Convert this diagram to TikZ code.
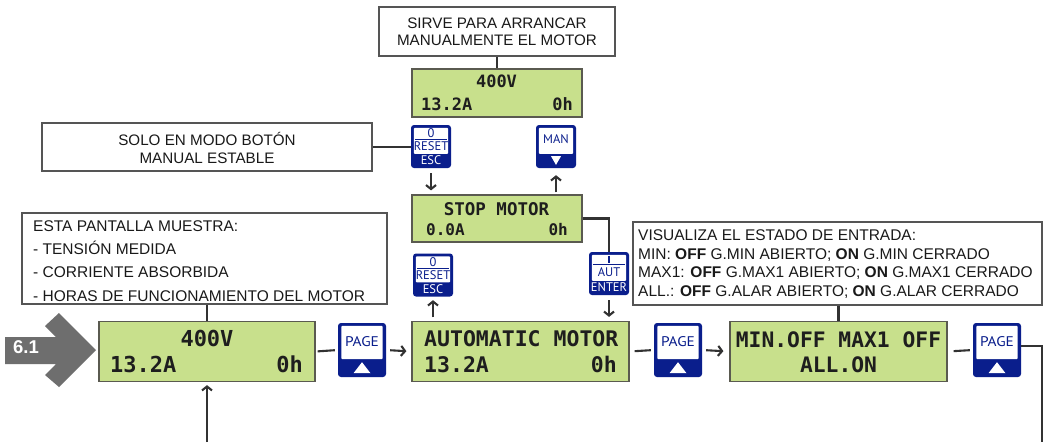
\documentclass[tikz,border=0pt]{standalone}
\usepackage{fontspec}
\setmainfont{Liberation Sans}
\newfontfamily\lcdfont{DejaVu Sans Mono}
\newfontfamily\btnfont{PT Sans}
\newfontfamily\pagefont[FakeStretch=1.1]{PT Sans}
\usetikzlibrary{arrows.meta}
\definecolor{lcdgreen}{RGB}{200,224,140}
\definecolor{lcdborder}{RGB}{90,90,80}
\definecolor{lcdtext}{RGB}{30,30,30}
\definecolor{btnblue}{RGB}{10,30,140}
\definecolor{linec}{RGB}{50,50,50}
\definecolor{boxborder}{RGB}{85,85,85}
\definecolor{arrowgray}{RGB}{110,110,110}
\tikzset{
  lcd/.style={rectangle, draw=lcdborder, fill=lcdgreen, line width=1.2pt, inner sep=0pt},
  capbox/.style={rectangle, draw=boxborder, fill=white, line width=1.2pt, inner sep=0pt},
  capt/.style={inner sep=0pt, text=black!90, font=\fontsize{15.2}{18}\selectfont},
  capv/.style={inner sep=0pt, text=black!90, font=\fontsize{15.5}{18}\selectfont},
  lcdt/.style={inner sep=0pt, text=lcdtext},
  conn/.style={draw=linec, line width=2.1pt},
  arr/.style={conn, -{Straight Barb[length=4pt,width=10pt]}},
  btn/.style={rectangle, fill=btnblue, rounded corners=3pt, inner sep=0pt},
  btnt/.style={inner sep=0pt, text=btnblue, font=\btnfont\fontsize{12.5}{12.5}\selectfont},
}
\newcommand\pagebtn[3]{%
  \node[btn, minimum width=48pt, minimum height=54pt] (#1) at (#2,#3) {};
  \fill[white, rounded corners=1pt] ([xshift=3.5pt,yshift=-3pt]#1.north west) rectangle ([xshift=-3.5pt,yshift=18pt]#1.south east);
  \fill[white] ([xshift=-8.5pt,yshift=4pt]#1.south) -- ([xshift=8.5pt,yshift=4pt]#1.south) -- ([yshift=15pt]#1.south) -- cycle;
  \node[btnt, font=\pagefont\fontsize{14}{14}\selectfont, anchor=base] (#1-t) at ([yshift=-23.3pt]#1.north) {PAGE};
}
\newcommand\resetbtn[3]{%
  \node[btn, minimum width=40pt, minimum height=43pt] (#1) at (#2,#3) {};
  \fill[white, rounded corners=1pt] ([xshift=3pt,yshift=-3pt]#1.north west) rectangle ([xshift=-3pt,yshift=14.3pt]#1.south east);
  \node[btnt, anchor=base] (#1-a) at ([yshift=-13pt]#1.north) {0};
  \draw[btnblue, line width=1pt] ([xshift=4pt,yshift=-15pt]#1.north west) -- ([xshift=-4pt,yshift=-15pt]#1.north east);
  \node[btnt, anchor=base] (#1-b) at ([yshift=-26pt]#1.north) {RESET};
  \node[btnt, text=white, anchor=base] (#1-c) at ([yshift=3.3pt]#1.south) {ESC};
}
\newcommand\manbtn[3]{%
  \node[btn, minimum width=40pt, minimum height=43pt] (#1) at (#2,#3) {};
  \fill[white, rounded corners=1pt] ([xshift=3pt,yshift=-3pt]#1.north west) rectangle ([xshift=-3pt,yshift=14.3pt]#1.south east);
  \node[btnt, anchor=base] (#1-a) at ([yshift=-18.7pt]#1.north) {MAN};
  \fill[white] ([xshift=-5pt,yshift=12pt]#1.south) -- ([xshift=5pt,yshift=12pt]#1.south) -- ([yshift=3.3pt]#1.south) -- cycle;
}
\newcommand\autbtn[3]{%
  \node[btn, minimum width=40pt, minimum height=43pt] (#1) at (#2,#3) {};
  \fill[white, rounded corners=1pt] ([xshift=3pt,yshift=-3pt]#1.north west) rectangle ([xshift=-3pt,yshift=14.3pt]#1.south east);
  \draw[btnblue, line width=1.2pt] ([yshift=-4pt]#1.north) -- ([yshift=-11.5pt]#1.north);
  \draw[btnblue, line width=1pt] ([xshift=4pt,yshift=-13pt]#1.north west) -- ([xshift=-4pt,yshift=-13pt]#1.north east);
  \node[btnt, anchor=base] (#1-b) at ([yshift=-24.7pt]#1.north) {AUT};
  \node[btnt, text=white, anchor=base] (#1-c) at ([yshift=3.3pt]#1.south) {ENTER};
}
\begin{document}
\begin{tikzpicture}[x=1pt, y=-1pt]
\useasboundingbox (0,0) rectangle (1050,442);
\fill[white] (0,0) rectangle (1050,442);

% caption boxes
\node[capbox, minimum width=236pt, minimum height=49pt] (sirve) at (497,31.5) {};
\node[capt, anchor=base] (sirve1) at (497,28.3) {SIRVE PARA ARRANCAR};
\node[capt, anchor=base] (sirve2) at (497,45) {MANUALMENTE EL MOTOR};

\node[capbox, minimum width=330pt, minimum height=48pt] (solo) at (207,147) {};
\node[capt, anchor=base] (solo1) at (207,145) {SOLO EN MODO BOTÓN};
\node[capt, anchor=base] (solo2) at (207,163) {MANUAL ESTABLE};

\node[capbox, minimum width=365pt, minimum height=91pt] (esta) at (204.5,258.5) {};
\node[capv, anchor=base west] (esta1) at (33,231) {ESTA PANTALLA MUESTRA:};
\node[capv, anchor=base west] (esta2) at (33,254) {- TENSIÓN MEDIDA};
\node[capv, anchor=base west] (esta3) at (33,277.5) {- CORRIENTE ABSORBIDA};
\node[capv, anchor=base west] (esta4) at (33,301) {- HORAS DE FUNCIONAMIENTO DEL MOTOR};

\node[capbox, minimum width=409pt, minimum height=83pt] (visu) at (837.5,263.5) {};
\node[capv, anchor=base west] (visu1) at (638,240.7) {VISUALIZA EL ESTADO DE ENTRADA:};
\node[capv, anchor=base west] (visu2) at (638,259) {MIN: \textbf{OFF} G.MIN ABIERTO; \textbf{ON} G.MIN CERRADO};
\node[capv, anchor=base west] (visu3) at (638,277.5) {MAX1: \textbf{OFF} G.MAX1 ABIERTO; \textbf{ON} G.MAX1 CERRADO};
\node[capv, anchor=base west] (visu4) at (638,296) {ALL.: \textbf{OFF} G.ALAR ABIERTO; \textbf{ON} G.ALAR CERRADO};

% LCD displays
\node[lcd, minimum width=170pt, minimum height=48pt] (lcdtop) at (497,93) {};
\node[lcdt, font=\lcdfont\bfseries\fontsize{17}{17}\selectfont, anchor=base] (lta) at (496.5,87.3) {400V};
\node[lcdt, font=\lcdfont\bfseries\fontsize{17}{17}\selectfont, anchor=base west] (ltb) at (421,110) {13.2A};
\node[lcdt, font=\lcdfont\bfseries\fontsize{17}{17}\selectfont, anchor=base east] (ltc) at (573,110) {0h};

\node[lcd, minimum width=170pt, minimum height=47pt] (stop) at (497,218.5) {};
\node[lcdt, font=\lcdfont\bfseries\fontsize{17.5}{17.5}\selectfont, anchor=base] (lsa) at (496.5,215) {STOP MOTOR};
\node[lcdt, font=\lcdfont\bfseries\fontsize{16}{16}\selectfont, anchor=base west] (lsb) at (426,235) {0.0A};
\node[lcdt, font=\lcdfont\bfseries\fontsize{16}{16}\selectfont, anchor=base east] (lsc) at (568,235) {0h};

\node[lcd, minimum width=216pt, minimum height=60pt] (lcd1) at (207,351.5) {};
\node[lcdt, font=\lcdfont\bfseries\fontsize{22}{22}\selectfont, anchor=base] (l1a) at (207,346) {400V};
\node[lcdt, font=\lcdfont\bfseries\fontsize{22}{22}\selectfont, anchor=base west] (l1b) at (110,372.7) {13.2A};
\node[lcdt, font=\lcdfont\bfseries\fontsize{22}{22}\selectfont, anchor=base east] (l1c) at (303,372.7) {0h};

\node[lcd, minimum width=217pt, minimum height=60pt] (lcd2) at (520.5,351.5) {};
\node[lcdt, font=\lcdfont\bfseries\fontsize{21.5}{21.5}\selectfont, anchor=base west] (l2a) at (424,346) {AUTOMATIC MOTOR};
\node[lcdt, font=\lcdfont\bfseries\fontsize{21.5}{21.5}\selectfont, anchor=base west] (l2b) at (424,372.7) {13.2A};
\node[lcdt, font=\lcdfont\bfseries\fontsize{21.5}{21.5}\selectfont, anchor=base east] (l2c) at (617,372.7) {0h};

\node[lcd, minimum width=217pt, minimum height=60pt] (lcd3) at (838.5,351.5) {};
\node[lcdt, font=\lcdfont\bfseries\fontsize{21.3}{21.3}\selectfont, anchor=base] (l3a) at (838.5,347.3) {MIN.OFF MAX1 OFF};
\node[lcdt, font=\lcdfont\bfseries\fontsize{21.3}{21.3}\selectfont, anchor=base] (l3b) at (838.5,372.7) {ALL.ON};

% buttons
\resetbtn{rs1}{431}{146.5}
\manbtn{man}{556}{146.5}
\resetbtn{rs2}{433}{275}
\autbtn{aut}{609}{273.5}
\pagebtn{pg1}{362}{350}
\pagebtn{pg2}{678}{350}
\pagebtn{pg3}{997}{350}

% entry arrow 6.1
\fill[arrowgray] (5,337) -- (56,337) -- (45,326) -- (59,313) -- (96,350) -- (59,387) -- (45,375) -- (56,364) -- (5,364) -- cycle;
\node[inner sep=0pt, text=white, font=\bfseries\fontsize{18.5}{18.5}\selectfont, anchor=base] (n61) at (26,353) {6.1};

% connectors
\coordinate (bl) at (207,442);
\coordinate (br) at (1042,442);
\draw[conn] (sirve.south) -- (lcdtop.north);
\draw[conn] (solo.east) -- (solo.east -| rs1.west);
\draw[arr, shorten <=5pt, shorten >=4pt] (rs1.south) -- (rs1.south |- stop.north);
\draw[arr, shorten <=2pt, shorten >=7pt] (man.south |- stop.north) -- (man.south);
\draw[conn] (stop.east) -| (aut.north);
\draw[arr, shorten <=5pt, shorten >=4pt] (aut.south) -- (aut.south |- lcd2.north);
\draw[arr, shorten <=3.5pt, shorten >=3.5pt] (rs2.south |- lcd2.north) -- (rs2.south);
\draw[conn] (lcd1.north |- esta.south) -- (lcd1.north);
\draw[arr, shorten >=3pt] (bl) -- (lcd1.south);
\draw[conn, shorten <=2pt, shorten >=3pt] (lcd1.east) -- (pg1.west);
\draw[arr, shorten <=4pt, shorten >=5pt] (pg1.east) -- (lcd2.west);
\draw[conn, shorten <=5pt, shorten >=3pt] (lcd2.east) -- (pg2.west);
\draw[arr, shorten <=4pt, shorten >=6pt] (pg2.east) -- (lcd3.west);
\draw[conn, shorten <=6pt, shorten >=3pt] (lcd3.east) -- (pg3.west);
\draw[conn] ([yshift=4pt]pg3.east) -| (br);
\draw[conn] (visu.south -| lcd3.north) -- (lcd3.north);
\end{tikzpicture}
\end{document}
